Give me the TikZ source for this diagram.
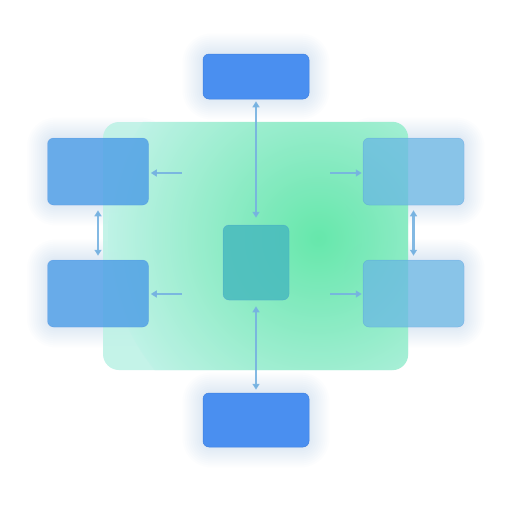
\documentclass[tikz,border=0pt]{standalone}
\usepackage{tikz}
\usetikzlibrary{calc, arrows.meta}

\definecolor{deepblue}{RGB}{74,143,240}
\definecolor{edgeblue}{RGB}{62,128,225}
\definecolor{sideblue}{RGB}{74,155,230}
\definecolor{sideteal}{RGB}{104,182,228}
\definecolor{coreteal}{RGB}{72,186,190}
\definecolor{linkblue}{RGB}{118,178,225}
\definecolor{mint}{RGB}{190,242,230}
\definecolor{hotgreen}{RGB}{92,230,165}
\definecolor{haze}{RGB}{95,135,240}

\pgfdeclarelayer{glow}
\pgfdeclarelayer{back}
\pgfsetlayers{glow,back,main}

\begin{document}
\begin{tikzpicture}[x=1pt, y=-1pt,
    box/.style={rounded corners=6pt, inner sep=0pt, draw=edgeblue, line width=0.5pt},
    link/.style={draw=linkblue, line width=2.3pt, draw opacity=0.9,
      >={Triangle[length=6pt, width=7pt]}}]
    \useasboundingbox (0,0) rectangle (512,512);

    % outer boxes
    \node[box, fill=deepblue, minimum width=106pt, minimum height=45pt] (top) at (256,76.5) {};
    \node[box, fill=deepblue, minimum width=106pt, minimum height=54pt] (bottom) at (256,420) {};
    \node[box, fill=sideblue, fill opacity=0.8, draw opacity=0.3, minimum width=101pt, minimum height=67pt] (l1) at (98,171.5) {};
    \node[box, fill=sideblue, fill opacity=0.8, draw opacity=0.3, minimum width=101pt, minimum height=67pt] (l2) at (98,293.5) {};
    \node[box, fill=sideteal, fill opacity=0.72, draw opacity=0.3, minimum width=101pt, minimum height=67pt] (r1) at (413.5,171.5) {};
    \node[box, fill=sideteal, fill opacity=0.72, draw opacity=0.3, minimum width=101pt, minimum height=67pt] (r2) at (413.5,293.5) {};
    % core
    \node[box, fill=coreteal, fill opacity=0.85, draw opacity=0.3, minimum width=66pt, minimum height=75pt] (core) at (256,262.5) {};

    % panel behind
    \begin{pgfonlayer}{back}
      \node[rounded corners=16pt, minimum width=305pt, minimum height=248pt, fill=mint, fill opacity=0.9]
        (panel) at (255.5,246) {};
      \begin{scope}
        \clip[rounded corners=16pt] (panel.north west) rectangle (panel.south east);
        \shade[inner color=hotgreen, outer color=mint, opacity=0.9] (318,238) circle (210pt);
      \end{scope}
    \end{pgfonlayer}

    % soft halos
    \begin{pgfonlayer}{glow}
      \fill[white] (0,0) rectangle (512,512);
      \foreach \n in {top,bottom,l1,l2,r1,r2}
        \foreach \r in {2,4,...,20}
          \fill[haze, opacity=0.016, rounded corners=8pt+\r pt]
            ($(\n.south west)+(-\r pt,-\r pt)$) rectangle ($(\n.north east)+(\r pt,\r pt)$);
    \end{pgfonlayer}

    % free ends
    \coordinate (la1) at (182,173);
    \coordinate (la2) at (182,294);
    \coordinate (ra1) at (330,173);
    \coordinate (ra2) at (330,294);

    % links
    \draw[link, <->, shorten <=2pt, shorten >=7pt] (top.south) -- (core.north);
    \draw[link, <->, shorten <=6pt, shorten >=3pt] (core.south) -- (bottom.north);
    \draw[link, ->, shorten >=2pt] (la1) -- (l1.east |- la1);
    \draw[link, ->, shorten >=2pt] (la2) -- (l2.east |- la2);
    \draw[link, ->, shorten >=1pt] (ra1) -- (r1.west |- ra1);
    \draw[link, ->, shorten >=1pt] (ra2) -- (r2.west |- ra2);
    \draw[link, <->, shorten <=5pt, shorten >=4pt] (l1.south) -- (l2.north);
    \draw[link, <->, shorten <=5pt, shorten >=4pt] (r1.south) -- (r2.north);
\end{tikzpicture}
\end{document}
